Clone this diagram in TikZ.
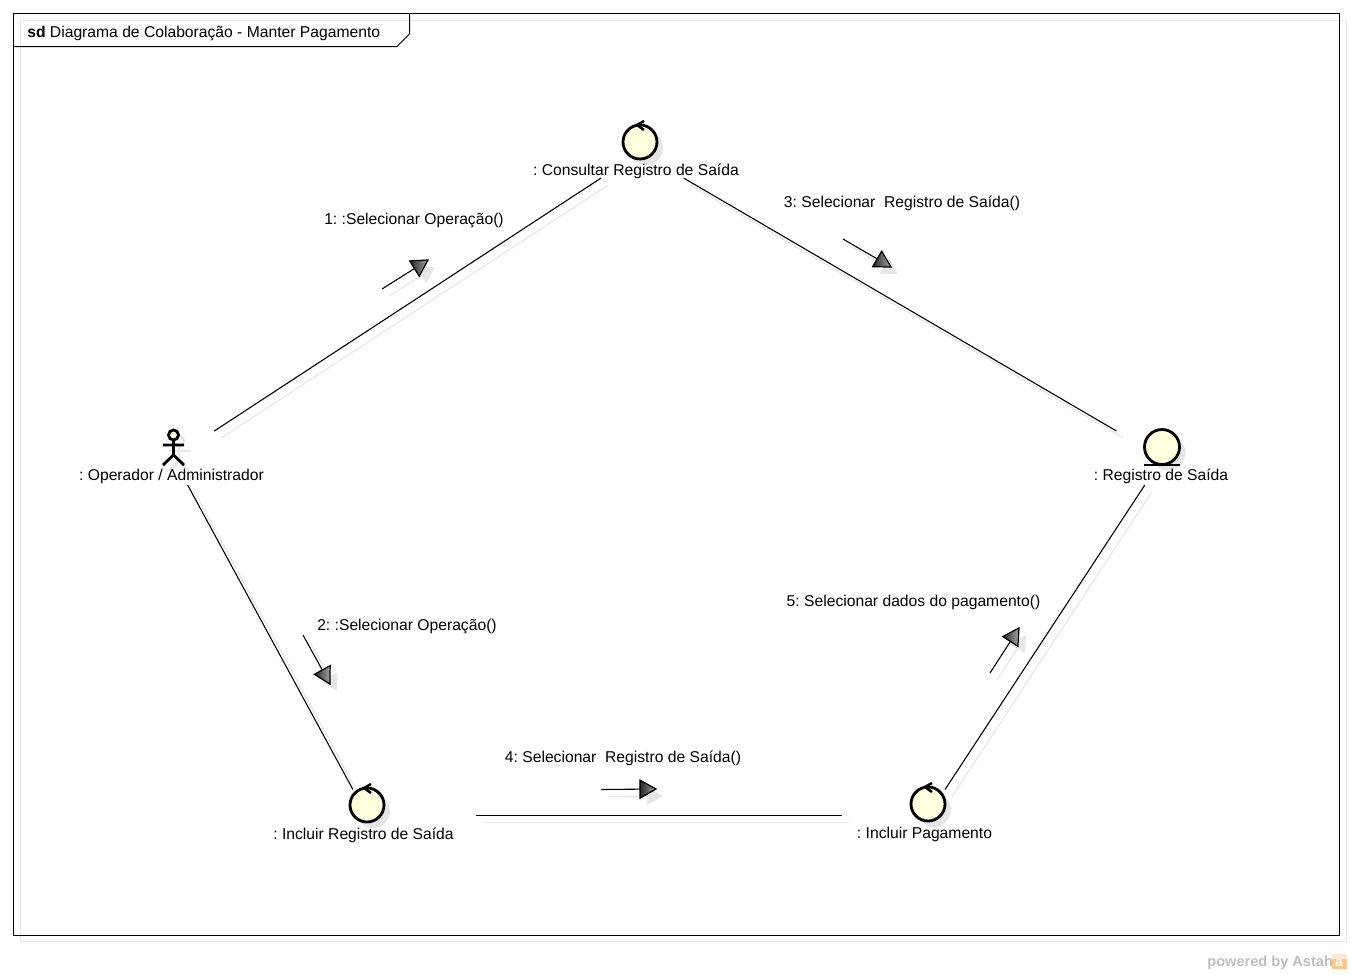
\documentclass[tikz,border=0pt]{standalone}
\usepackage{fontspec}
\setmainfont{Liberation Sans}
\usetikzlibrary{calc}
\definecolor{shadowgray}{HTML}{E6E6E6}
\definecolor{iconyellow}{HTML}{FFFFE0}
\definecolor{wmgray}{HTML}{BEBEBE}
\tikzset{
  elementbox/.style={rectangle,inner sep=0pt,outer sep=0pt},
  link/.style={black,line width=0.62pt},
  linkshadow/.style={shadowgray,line width=0.7pt,transform canvas={shift={(7,7)}}},
  icon/.style={black,line width=1.6pt},
  label/.style={anchor=base,inner sep=0pt,font=\fontsize{8.92pt}{11pt}\selectfont}
}
\begin{document}
\frenchspacing
\begin{tikzpicture}[x=0.02cm,y=-0.02cm]
\useasboundingbox (0,0) rectangle (1352,974);

%frame and its tab
\draw[shadowgray,line width=0.567pt] (20.5,20.5) rectangle (1346.5,941.5);
\draw[black,line width=0.567pt] (13.5,13.5) rectangle (1339.5,935.5);
\draw[black,line width=0.567pt] (13.5,46.5) -- (397,46.5) -- (409.5,34) -- (409.5,13.5);
\node[label,anchor=base west] (framelabel) at (27,37) {\textbf{sd} Diagrama de Colaboração - Manter Pagamento};

%boxes of the elements, the links stop at their borders
\node[elementbox,minimum width=4.08cm,minimum height=1.02cm] (consultar) at (640,152.5) {};
\node[elementbox,minimum width=3.7cm,minimum height=1.08cm] (operador) at (173,458) {};
\node[elementbox,minimum width=3.4cm,minimum height=1.08cm] (registro) at (1162.5,458) {};
\node[elementbox,minimum width=4.36cm,minimum height=1.04cm] (incluirreg) at (367,815.5) {};
\node[elementbox,minimum width=3.44cm,minimum height=1.04cm] (incluirpag) at (928,815.5) {};

%links
\foreach \a/\b in {operador/consultar,consultar/registro,operador/incluirreg,incluirreg/incluirpag,incluirpag/registro}
\draw[linkshadow] (\a) -- (\b);
\foreach \a/\b in {operador/consultar,consultar/registro,operador/incluirreg,incluirreg/incluirpag,incluirpag/registro}
\draw[link] (\a) -- (\b);

%control icons
\foreach \x/\y in {640/142,367/805,928/804}{
\fill[shadowgray] (\x+6,\y+6) circle (17);
\draw[icon,fill=iconyellow] (\x,\y) circle (17);
\draw[icon,line width=1.4pt] (\x+4,\y-21) -- (\x-3,\y-17) -- (\x+4,\y-12);
}

%entity icon
\fill[shadowgray] (1168,453) circle (17.5);
\draw[icon,fill=iconyellow] (1162,447) circle (17.5);
\draw[icon] (1144,465) -- (1180,465);

%actor
\draw[shadowgray,line width=1.4pt] (179,441) circle (5) (179,446) -- (179,461) (169,451) -- (190,451) (179,461) -- (169,471) (179,461) -- (190,471);
\draw[icon,fill=iconyellow] (173.5,435) circle (5);
\draw[icon] (173.5,440) -- (173.5,455) (163,445) -- (184,445) (173.5,455) -- (163,465) (173.5,455) -- (184,465);

%names of the elements
\node[label] (consultarname) at (636,175.5) {: Consultar Registro de Saída};
\node[label] (operadorname) at (171.5,480.5) {: Operador / Administrador};
\node[label] (registroname) at (1161,480.5) {: Registro de Saída};
\node[label] (incluirregname) at (363.5,839.5) {: Incluir Registro de Saída};
\node[label] (incluirpagname) at (924.5,838.5) {: Incluir Pagamento};

%messages
\node[label] (msgone) at (414,224.5) {1: :Selecionar Operação()};
\node[label] (msgtwo) at (407,630.5) {2: :Selecionar Operação()};
\node[label] (msgthree) at (902,207.5) {3: Selecionar \ Registro de Saída()};
\node[label] (msgfour) at (623,762.5) {4: Selecionar \ Registro de Saída()};
\node[label] (msgfive) at (913.5,606.5) {5: Selecionar dados do pagamento()};

%message arrows
\foreach \sx/\sy/\tx/\ty in {382/289/428/260,303/635/330/684,843/239/891/267,601/789.5/656/789,990/673/1019/628}{
\coordinate (s) at (\sx,\sy);
\coordinate (t) at (\tx,\ty);
\coordinate (m) at ($(t)!0.32cm!(s)$);
\coordinate (p) at ($(m)!0.18cm!90:(t)$);
\coordinate (q) at ($(m)!0.18cm!-90:(t)$);
\draw[linkshadow] (s) -- (m);
\fill[shadowgray,transform canvas={shift={(7,7)}}] (t) -- (p) -- (q) -- cycle;
\draw[link] (s) -- (m);
\shade[left color=black!85,right color=gray!70,draw=black,line width=0.7pt] (t) -- (p) -- (q) -- cycle;
}

%watermark
\node[anchor=base west,inner sep=0pt,text=wmgray,font=\fontsize{8.3pt}{10pt}\selectfont\bfseries] (powered) at (1207,966) {powered by Astah};
\fill[orange!45!white] (1332,954) rectangle (1347,969);
\fill[orange!20!white] (1332,954) rectangle (1347,959);
\node[inner sep=0pt,text=white,font=\fontsize{8pt}{8pt}\selectfont\bfseries] (logo) at (1339,963) {a};
\end{tikzpicture}
\end{document}
